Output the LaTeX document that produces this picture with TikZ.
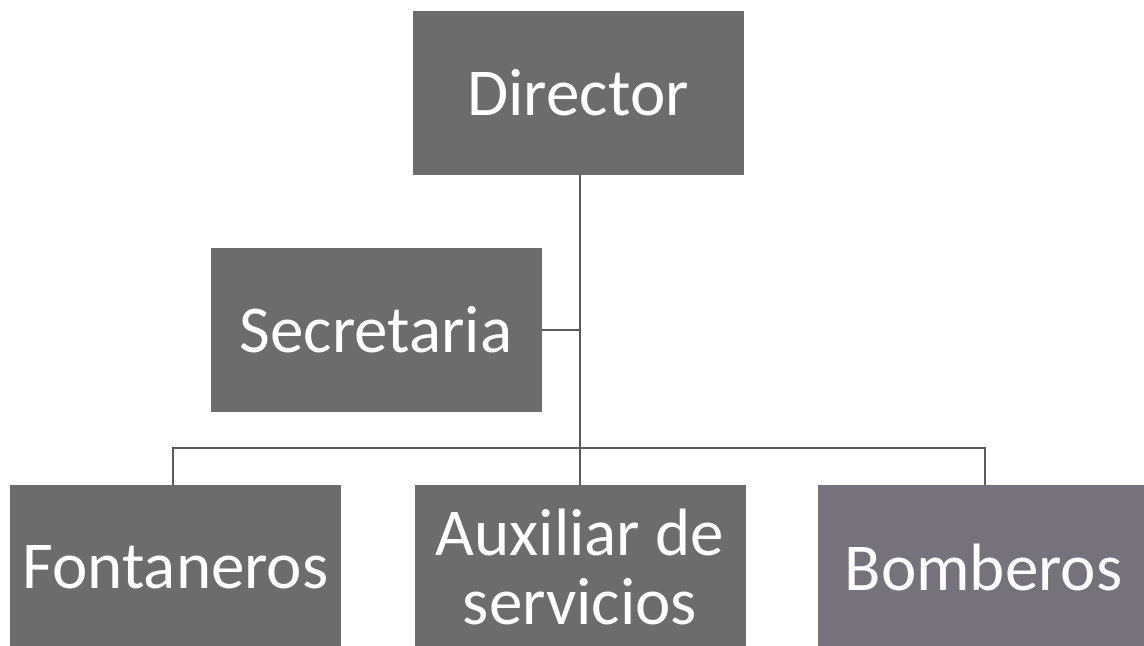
\documentclass[tikz,border=0pt]{standalone}
\usepackage{fontspec}
\setmainfont{Carlito}
\definecolor{boxgray}{RGB}{108,108,108}
\definecolor{boxgrayb}{RGB}{118,114,124}
\definecolor{linegray}{RGB}{90,90,90}
\begin{document}
\begin{tikzpicture}[x=0.5pt,y=-0.5pt,
  orgbox/.style={fill=boxgray, draw=none, text=white, inner sep=0pt,
    minimum width=165.5pt, minimum height=82pt, align=center,
    font=\fontsize{33.5}{34.5}\selectfont},
  link/.style={draw=linegray, line width=0.75pt}]
\useasboundingbox (0,0) rectangle (1144,646);
\clip (0,0) rectangle (1144,646);
\node[orgbox] (dir) at (578,93) {Director};
\node[orgbox] (sec) at (376,330) {Secretaria};
\node[orgbox] (fon) at (175.5,567) {Fontaneros};
\node[orgbox] (aux) at (580,567) {Auxiliar de\\servicios};
\node[orgbox, fill=boxgrayb] (bom) at (983.5,567) {Bomberos};
\coordinate (bus) at (580,448);
\coordinate (top) at (580,175);
\draw[link] (top) -- (aux.north);
\draw[link] (sec.east) -- (sec.east -| top);
\draw[link] (fon.north -| 173,0) |- (bus) -| (bom.north -| 985,0);
\end{tikzpicture}
\end{document}
